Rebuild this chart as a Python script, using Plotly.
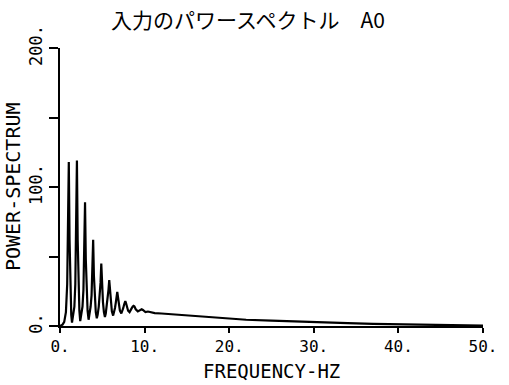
import plotly.graph_objects as go

# ---- data ----
freq_hz = [0.0, 0.3, 0.5, 0.7, 0.85, 0.95, 1.04, 1.13, 1.24, 1.33, 1.42,
           1.52, 1.7, 1.81, 1.91, 2.0, 2.09, 2.2, 2.29, 2.39,
           2.49, 2.66, 2.77, 2.87, 2.96, 3.05, 3.16, 3.26, 3.38,
           3.48, 3.62, 3.73, 3.83, 3.92, 4.01, 4.12, 4.23, 4.35,
           4.45, 4.58, 4.69, 4.79, 4.88, 4.97, 5.08, 5.19, 5.31,
           5.41, 5.53, 5.63, 5.73, 5.82, 5.91, 6.01, 6.13, 6.28,
           6.38, 6.5, 6.6, 6.69, 6.77, 6.86, 6.96, 7.08, 7.25,
           7.36, 7.48, 7.58, 7.66, 7.72, 7.8, 7.92, 8.05, 8.22,
           8.35, 8.5, 8.6, 8.7, 8.8, 8.95, 9.2,
           9.35, 9.5, 9.65, 9.8, 10.1, 10.4, 10.7, 11.2, 12, 13, 14, 16, 18,
           20, 22, 25, 28, 31, 34, 37, 40, 43, 46, 50]
power = [0.0, 1.0, 3.0, 10.0, 30.0, 70.0, 118.0, 62.0, 22.0, 8.0, 2.5,
         6.0, 14.0, 30.0, 65.0, 119.0, 62.0, 25.0, 11.0, 3.5,
         7.0, 14.0, 26.0, 50.0, 89.0, 48.0, 22.0, 11.0, 4.5,
         8.0, 14.0, 22.0, 38.0, 62.0, 36.0, 18.0, 10.0, 5.5,
         8.0, 14.0, 21.0, 31.0, 45.0, 30.0, 17.0, 10.0, 6.5,
         9.0, 14.0, 19.0, 26.0, 33.0, 25.0, 16.0, 10.5, 7.5,
         9.5, 13.0, 17.0, 21.0, 24.5, 20.5, 15.0, 11.0, 9.0,
         10.5, 13.0, 15.5, 17.0, 18.0, 16.5, 13.5, 11.0, 10.0,
         11.0, 13.0, 14.0, 14.5, 14.0, 12.0, 10.5,
         11.0, 11.8, 12.0, 11.5, 10.0, 10.4, 9.8, 9.3, 9.0, 8.5, 8.0, 7.0, 6.0,
         5.2, 4.5, 3.8, 3.1, 2.5, 2.0, 1.6, 1.2, 0.8, 0.5, 0.2]

x_tick_vals = [0, 10, 20, 30, 40, 50]
x_tick_text = ["0.", "10.", "20.", "30.", "40.", "50."]
y_tick_vals = [0, 50, 100, 150, 200]
y_tick_text = ["0.", "", "100.", "", "200."]

title_text = "入力のパワースペクトル\u3000A0"
x_title = "FREQUENCY-HZ"
y_title = "POWER-SPECTRUM"

MONO = "DejaVu Sans Mono"

fig = go.Figure()
fig.add_trace(go.Scatter(x=freq_hz, y=power, mode="lines",
                         line=dict(color="black", width=2.2),
                         showlegend=False, hoverinfo="skip"))

fig.update_layout(
    width=509, height=385,
    margin=dict(l=60, r=16, t=48, b=59),
    paper_bgcolor="white", plot_bgcolor="white",
    xaxis=dict(range=[0, 50], tickvals=x_tick_vals, ticktext=x_tick_text,
               ticks="outside", ticklen=5, tickwidth=1.5, tickcolor="black",
               showline=True, linecolor="black", linewidth=2,
               showgrid=False, zeroline=False,
               tickfont=dict(family=MONO, size=16, color="black")),
    yaxis=dict(range=[0, 200], tickvals=y_tick_vals, ticktext=y_tick_text,
               tickangle=-90,
               ticks="outside", ticklen=9, tickwidth=1.5, tickcolor="black",
               showline=True, linecolor="black", linewidth=2,
               showgrid=False, zeroline=False,
               tickfont=dict(family=MONO, size=17, color="black")),
    annotations=[
        dict(text=title_text, xref="paper", yref="paper", x=0.445, y=1.104,
             xanchor="center", yanchor="middle", showarrow=False,
             font=dict(family="Noto Sans CJK JP", size=21, color="black")),
        dict(text=x_title, xref="paper", yref="paper", x=0.5, y=-0.162,
             xanchor="center", yanchor="middle", showarrow=False,
             font=dict(family=MONO, size=19, color="black")),
        dict(text=y_title, xref="paper", yref="paper", x=-0.111, y=0.5,
             xanchor="center", yanchor="middle", showarrow=False, textangle=-90,
             font=dict(family=MONO, size=20, color="black")),
    ],
)

fig.write_html("out.html")
